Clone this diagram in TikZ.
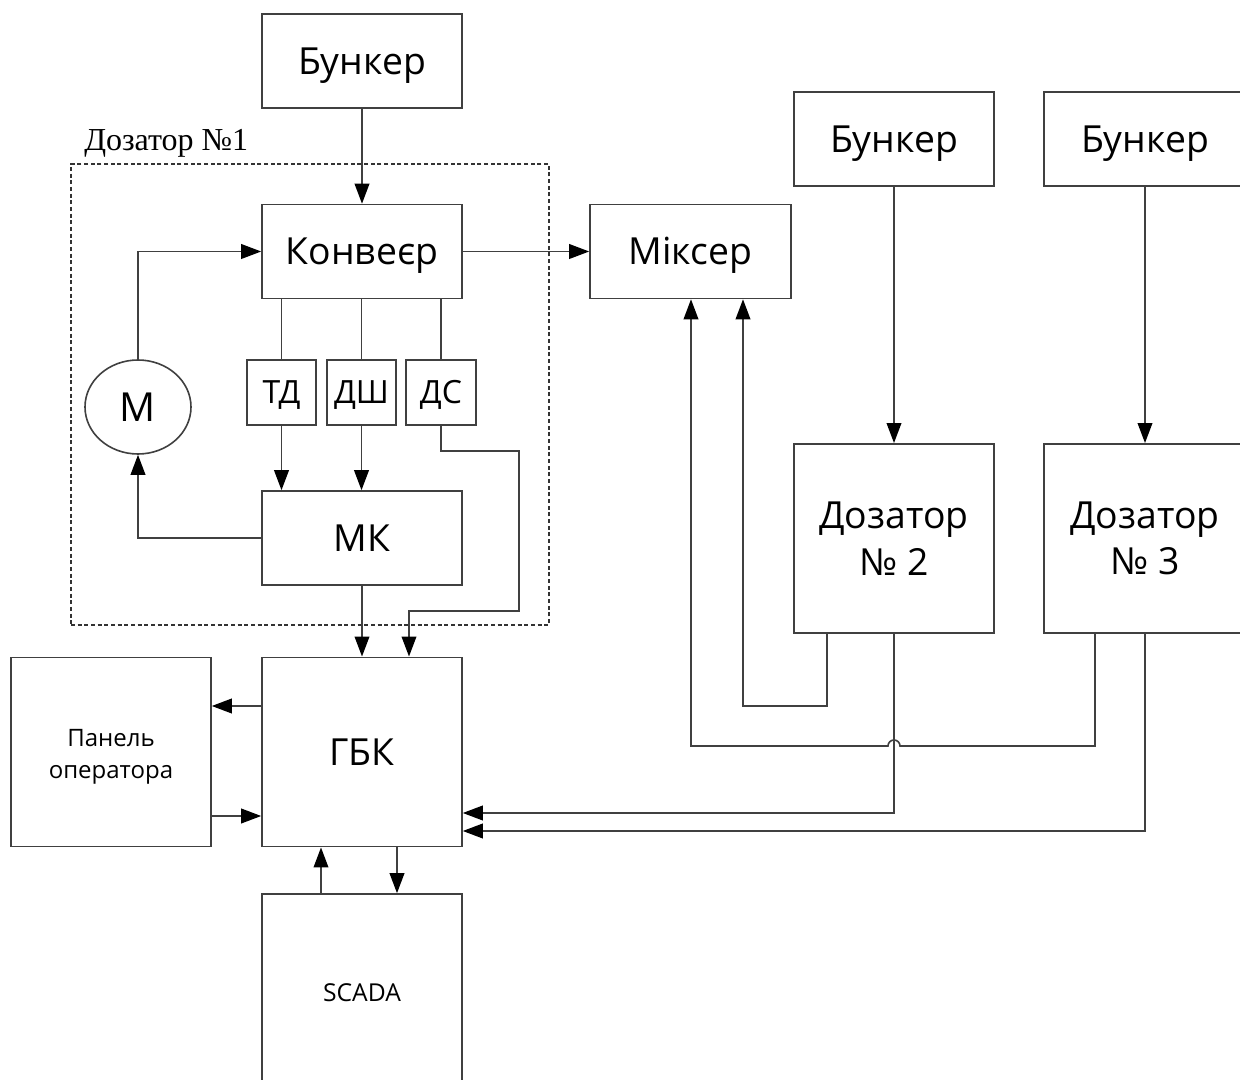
\documentclass[tikz,border=0pt]{standalone}
\usepackage{fontspec}
\setmainfont{Open Sans}
\newfontfamily\captionserif{Liberation Serif}
\usetikzlibrary{arrows.meta,shapes.geometric}

\begin{document}
\begin{tikzpicture}[x=0.75pt,y=-0.75pt,
  box/.style={draw=black!75, line width=1.2pt, inner sep=0pt, align=center,
              minimum width=150pt, minimum height=70.5pt,
              font=\fontsize{28}{35}\selectfont},
  oneline/.style={text height=20pt, text depth=0pt},
  tallbox/.style={box, minimum height=142pt},
  smallbox/.style={box, minimum width=52pt, minimum height=48.75pt,
                   font=\fontsize{24}{26}\selectfont, text height=17pt, text depth=0pt},
  groupbox/.style={draw=black!80, line width=0.8pt, dash pattern=on 3pt off 2pt,
                   inner sep=0pt, minimum width=358.5pt, minimum height=345.75pt},
  conn/.style={draw=black!75, line width=1.2pt},
  arr/.style={conn, -{Triangle[length=15pt,width=11pt,color=black]}}]

\clip (0,0) rectangle (1240,1080);
\fill[white] (0,0) rectangle (1240,1080);

% dosing unit No. 1 group frame and caption
\node[groupbox] (grp) at (310,394.5) {};
\node[anchor=west, inner sep=0pt, font=\captionserif\fontsize{24}{24}\selectfont] (grpcap) at (84,143) {Дозатор №1};

% blocks
\node[box, oneline] (b1) at (362,61) {Бункер};
\node[box, oneline] (konv) at (362,251.5) {Конвеєр};
\node[box, oneline, minimum width=150.75pt] (mix) at (690.5,251.5) {Міксер};
\node[box, oneline] (b2) at (894,139) {Бункер};
\node[box, oneline, minimum width=151.5pt] (b3) at (1145,139) {Бункер};
\node[box, ellipse, minimum width=79.5pt, minimum height=70.5pt,
      font=\fontsize{30}{30}\selectfont, text height=21.5pt, text depth=0pt] (m) at (138,407) {М};
\node[smallbox] (td) at (281.5,392.5) {ТД};
\node[smallbox] (dsh) at (361.5,392.5) {ДШ};
\node[smallbox, minimum width=52.5pt] (ds) at (441,392.5) {ДС};
\node[box, oneline] (mk) at (362,538) {МК};
\node[tallbox] (dz2) at (894,538.5) {Дозатор\\№ 2};
\node[tallbox, minimum width=151.5pt] (dz3) at (1145,538.5) {Дозатор\\№ 3};
\node[tallbox, font=\fontsize{18}{24}\selectfont] (pan) at (111,752) {\rule{0pt}{20pt}Панель\\оператора};
\node[tallbox, oneline] (gbk) at (362,752) {ГБК};
\node[box, minimum height=148.5pt, font=\fontsize{18.5}{20}\selectfont,
      text height=13.2pt, text depth=0pt] (scada) at (362,993) {SCADA};

% bend points
\coordinate (dsr) at (519,451);
\coordinate (dsb) at (409,611);
\coordinate (r2) at (743,706);
\coordinate (hop) at (900,746);
\coordinate (r3) at (691,746);

% connectors inside dosing unit No. 1
\draw[arr] (b1) -- (konv);
\draw[arr] (konv) -- (mix);
\draw[arr] (m.north) |- (konv.west);
\draw[arr] (mk.west) -| (m.south);
\draw[conn] (td.north |- konv.south) -- (td.north);
\draw[conn] (dsh.north |- konv.south) -- (dsh.north);
\draw[conn] (ds.north |- konv.south) -- (ds.north);
\draw[arr] (td.south) -- (td.south |- mk.north);
\draw[arr] (dsh.south) -- (dsh.south |- mk.north);
\draw[arr] (ds.south) |- (dsr) |- (dsb) -- (dsb |- gbk.north);
\draw[arr] (mk) -- (gbk);

% operator panel and SCADA
\draw[arr] ([yshift=34.5pt]gbk.west) -- ([yshift=34.5pt]pan.east);
\draw[arr] ([yshift=-48pt]pan.east) -- ([yshift=-48pt]gbk.west);
\draw[arr] ([xshift=-30.75pt]scada.north) -- ([xshift=-30.75pt]gbk.south);
\draw[arr] ([xshift=26.25pt]gbk.south) -- ([xshift=26.25pt]scada.north);

% dosing units No. 2 and No. 3
\draw[arr] (b2) -- (dz2);
\draw[arr] (b3) -- (dz3);
\draw[arr] ([xshift=-50.25pt]dz2.south) |- (r2) -- (r2 |- mix.south);
\draw[arr] ([xshift=-37.5pt]dz3.south) |- (hop)
  arc[start angle=0, end angle=-180, radius=6] -- (r3) -- (r3 |- mix.south);
\draw[arr] (dz2.south) |- ([yshift=-45.75pt]gbk.east);
\draw[arr] (dz3.south) |- ([yshift=-59.25pt]gbk.east);
\end{tikzpicture}
\end{document}
